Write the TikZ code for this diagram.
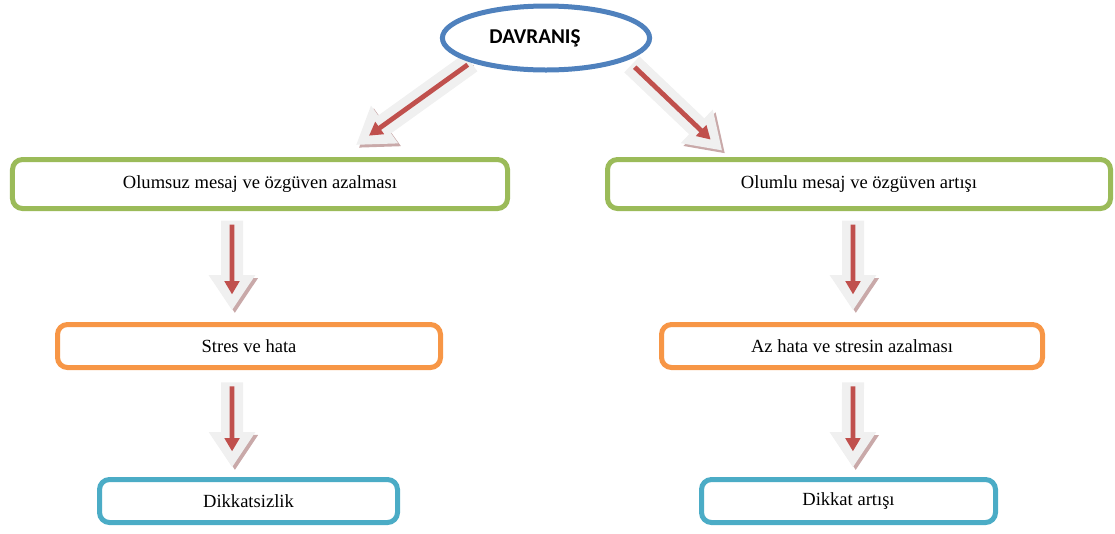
\documentclass[tikz,border=0pt]{standalone}
\usepackage{fontspec}
\setmainfont{Liberation Serif}
\newfontfamily\calibri{Carlito}
\usepackage{xcolor}
\usepackage{tikz}
\usetikzlibrary{shapes.geometric,arrows.meta,positioning,backgrounds}

\definecolor{davblue}{HTML}{4F81BD}
\definecolor{boxgreen}{HTML}{9BBB59}
\definecolor{boxorange}{HTML}{F79646}
\definecolor{boxcyan}{HTML}{4BACC6}
\definecolor{arrred}{HTML}{C0504D}
\definecolor{arrgray}{HTML}{F0F0F0}
\definecolor{arrshade}{HTML}{C9A9A9}

\begin{document}
\begin{tikzpicture}[
    box/.style={rectangle, draw, rounded corners=0.25cm, line width=0.125cm, fill=white, minimum height=1.225cm, font=\fontsize{13.2}{15}\selectfont},
    fatarrow/.style={line width=0.55cm, draw=arrgray, -{Triangle[width=1.1cm,length=0.88cm]},
        preaction={draw=arrshade, transform canvas={xshift=0.07cm,yshift=-0.07cm}}},
    redarrow/.style={line width=0.12cm, draw=arrred, -{Triangle[width=0.36cm,length=0.33cm]}, shorten <=0.1cm, shorten >=0.4cm}
]
    \useasboundingbox (0,0) rectangle (27.875,-13.325);

    \node[ellipse, draw=davblue, line width=0.125cm, fill=white, minimum width=5.18cm, minimum height=1.6cm,
        font=\calibri\bfseries\fontsize{15}{18}\selectfont] (davranis) at (13.65,-0.95) {\hspace*{-0.55cm}\raisebox{-0.08cm}{DAVRANIŞ}};

    \node[box, draw=boxgreen, minimum width=12.375cm] (olumsuz) at (6.5,-4.6) {Olumsuz mesaj ve özgüven azalması};
    \node[box, draw=boxgreen, minimum width=12.575cm] (olumlu) at (21.475,-4.6) {Olumlu mesaj ve özgüven artışı};
    \node[box, draw=boxorange, minimum width=9.575cm, minimum height=1.075cm] (stres) at (6.225,-8.65) {Stres ve hata};
    \node[box, draw=boxorange, minimum width=9.525cm, minimum height=1.075cm] (azhata) at (21.3,-8.65) {Az hata ve stresin azalması};
    \node[box, draw=boxcyan, minimum width=7.45cm, minimum height=1.075cm] (dikkatsiz) at (6.2125,-12.525) {Dikkatsizlik};
    \node[box, draw=boxcyan, minimum width=7.35cm, minimum height=1.075cm] (dikkat) at (21.2125,-12.525) {Dikkat artışı};

    \begin{scope}[on background layer]
    % from DAVRANIS
    \draw[fatarrow] (davranis.south west) -- ([shift={(2.4cm,0.3cm)}]olumsuz.north);
    \draw[redarrow] (davranis.south west) -- ([shift={(2.4cm,0.3cm)}]olumsuz.north);
    \draw[fatarrow] ([shift={(0.27cm,-0.05cm)}]davranis.south east) -- ([shift={(-3.42cm,0.16cm)}]olumlu.north);
    \draw[redarrow] ([shift={(0.27cm,-0.05cm)}]davranis.south east) -- ([shift={(-3.42cm,0.16cm)}]olumlu.north);

    % left column
    \draw[fatarrow] ([shift={(-0.7cm,-0.24cm)}]olumsuz.south) -- ([shift={(-0.425cm,0.29cm)}]stres.north);
    \draw[redarrow] ([shift={(-0.7cm,-0.24cm)}]olumsuz.south) -- ([shift={(-0.425cm,0.29cm)}]stres.north);
    \draw[fatarrow] ([shift={(-0.425cm,-0.31cm)}]stres.south) -- ([shift={(-0.41cm,0.24cm)}]dikkatsiz.north);
    \draw[redarrow] ([shift={(-0.425cm,-0.31cm)}]stres.south) -- ([shift={(-0.41cm,0.24cm)}]dikkatsiz.north);

    % right column
    \draw[fatarrow] ([shift={(-0.15cm,-0.24cm)}]olumlu.south) -- ([shift={(0.025cm,0.29cm)}]azhata.north);
    \draw[redarrow] ([shift={(-0.15cm,-0.24cm)}]olumlu.south) -- ([shift={(0.025cm,0.29cm)}]azhata.north);
    \draw[fatarrow] ([shift={(0.025cm,-0.31cm)}]azhata.south) -- ([shift={(0.11cm,0.24cm)}]dikkat.north);
    \draw[redarrow] ([shift={(0.025cm,-0.31cm)}]azhata.south) -- ([shift={(0.11cm,0.24cm)}]dikkat.north);
    \end{scope}
\end{tikzpicture}
\end{document}
